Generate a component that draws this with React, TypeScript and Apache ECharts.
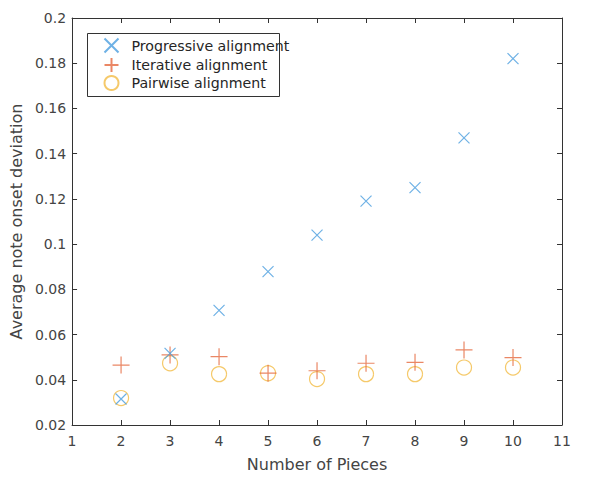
import React, { useEffect, useRef } from "react";
import * as echarts from "echarts";

const pieces = [2, 3, 4, 5, 6, 7, 8, 9, 10];
const progressive = [0.0315, 0.0517, 0.0707, 0.0878, 0.104, 0.119, 0.125, 0.147, 0.182];
const iterative = [0.0465, 0.051, 0.0502, 0.0429, 0.044, 0.0473, 0.0477, 0.0532, 0.0498];
const pairwise = [0.0319, 0.0473, 0.0425, 0.0429, 0.0403, 0.0425, 0.0425, 0.0454, 0.0454];
const seriesNames = ["Progressive alignment", "Iterative alignment", "Pairwise alignment"];

const FONT = "DejaVu Sans";
const AXIS = "#333333";
const TEXT = "#444444";

export default function App() {
  const ref = useRef<HTMLDivElement>(null);
  useEffect(() => {
    const chart = echarts.init(ref.current!, null, { renderer: "svg" });
    const toPts = (ys: number[]) => pieces.map((x, i) => [x, ys[i]]);
    const fmt = (v: number) => String(parseFloat(v.toFixed(2)));
    chart.setOption({
      animation: false,
      backgroundColor: "#ffffff",
      textStyle: { fontFamily: FONT },
      grid: { left: 71, right: 38, top: 18, bottom: 50 },
      legend: {
        orient: "vertical",
        left: 102,
        top: 36,
        padding: 0,
        itemGap: 0.5,
        itemWidth: 18,
        itemHeight: 14,
        textStyle: { fontFamily: FONT, fontSize: 14.2, color: "#262626", padding: [0, 0, 0, 6] },
        data: seriesNames,
      },
      graphic: [
        {
          type: "rect",
          shape: { x: 87.5, y: 33.5, width: 192, height: 63 },
          style: { fill: "none", stroke: "#333", lineWidth: 1 },
          z: 5,
        },
      ],
      xAxis: [
        {
          type: "value",
          min: 1,
          max: 11,
          interval: 1,
          name: "Number of Pieces",
          nameLocation: "middle",
          nameGap: 31,
          nameTextStyle: { fontFamily: FONT, fontSize: 16, color: TEXT },
          axisLine: { show: true, lineStyle: { color: AXIS, width: 1 } },
          axisTick: { show: true, inside: true, length: 5, lineStyle: { color: AXIS } },
          axisLabel: { fontFamily: FONT, fontSize: 14, color: TEXT, margin: 9 },
          splitLine: { show: false },
        },
        {
          type: "value",
          position: "top",
          min: 1,
          max: 11,
          interval: 1,
          axisLine: { show: true, lineStyle: { color: AXIS, width: 1 } },
          axisTick: { show: true, inside: true, length: 5, lineStyle: { color: AXIS } },
          axisLabel: { show: false },
          splitLine: { show: false },
        },
      ],
      yAxis: [
        {
          type: "value",
          min: 0.02,
          max: 0.2,
          interval: 0.02,
          name: "Average note onset deviation",
          nameLocation: "middle",
          nameGap: 45,
          nameTextStyle: { fontFamily: FONT, fontSize: 16, color: TEXT },
          axisLine: { show: true, lineStyle: { color: AXIS, width: 1 } },
          axisTick: { show: true, inside: true, length: 5, lineStyle: { color: AXIS } },
          axisLabel: { fontFamily: FONT, fontSize: 14, color: TEXT, margin: 6, formatter: fmt },
          splitLine: { show: false },
        },
        {
          type: "value",
          position: "right",
          min: 0.02,
          max: 0.2,
          interval: 0.02,
          axisLine: { show: true, lineStyle: { color: AXIS, width: 1 } },
          axisTick: { show: true, inside: true, length: 5, lineStyle: { color: AXIS } },
          axisLabel: { show: false },
          splitLine: { show: false },
        },
      ],
      series: [
        {
          name: seriesNames[0],
          type: "scatter",
          symbol: "path://M0 0L10 10M10 0L0 10",
          symbolSize: 11,
          itemStyle: { color: "none", borderColor: "#4a9ede", borderWidth: 1.2 },
          data: toPts(progressive),
          z: 4,
        },
        {
          name: seriesNames[1],
          type: "scatter",
          symbol: "path://M5 0L5 10M0 5L10 5",
          symbolSize: 17,
          itemStyle: { color: "none", borderColor: "#e5693e", borderWidth: 1.2 },
          data: toPts(iterative),
          z: 3,
        },
        {
          name: seriesNames[2],
          type: "scatter",
          symbol: "circle",
          symbolSize: 15,
          itemStyle: { color: "rgba(0,0,0,0)", borderColor: "#f2bb45", borderWidth: 1.2 },
          data: toPts(pairwise),
          z: 2,
        },
      ],
    });
    return () => chart.dispose();
  }, []);
  return <div ref={ref} style={{ width: 600, height: 477, position: "absolute", left: 0, top: 0 }} />;
}
